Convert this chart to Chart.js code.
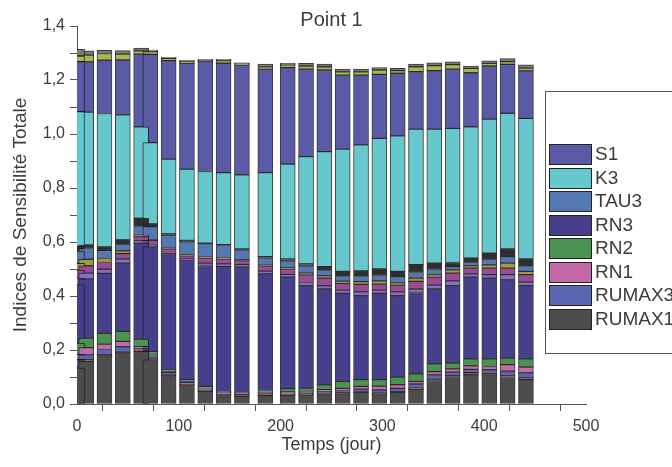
<!DOCTYPE html>
<html lang="fr">
<head>
<meta charset="utf-8">
<title>Point 1</title>
<script src="https://cdn.jsdelivr.net/npm/chart.js@4.4.1/dist/chart.umd.min.js"></script>
<style>
  html, body { margin: 0; padding: 0; background: #fff; }
</style>
</head>
<body>
<canvas id="chart" width="672" height="467"></canvas>
<script>
// Temps (jour) of each bar; the day 0 bar is last so it is drawn over the day 9 one
const days = [9, 27, 45, 63, 72, 90, 108, 126, 144, 162, 185, 207, 225, 243, 261, 279, 297, 315, 333, 351, 369, 387, 405, 423, 441, 0];

// total sensitivity indices, per parameter (bottom of the stack first)
const rumax1 = [.158, .179, .19, .195, .164, .105, .071, .047, .034, .028, .031, .032, .034, .038, .038, .043, .034, .043, .053, .087, .102, .108, .108, .098, .09, .133];
const otherRed = [.006, .003, .002, .003, .002, .002, .002, .002, .002, .008, .008, .004, .004, .003, .003, .002, .006, .003, .006, .004, .003, .008, .004, .006, .007, .006];
const rumax3 = [.018, .02, .02, .006, .01, .01, .007, .007, .005, .003, .004, .005, .006, .006, .009, .01, .012, .012, .015, .017, .013, .012, .015, .018, .018, .025];
const rn1 = [.027, .02, .02, .008, .004, .002, .002, .002, .002, .001, .001, .004, .003, .006, .008, .01, .014, .014, .01, .012, .012, .013, .012, .024, .022, .02];
const rn2 = [.035, .04, .037, .028, .015, .008, .008, .007, .004, .003, .006, .012, .012, .018, .026, .025, .024, .028, .028, .029, .022, .026, .028, .024, .03, .042];
const rn3 = [.219, .222, .253, .356, .388, .426, .444, .448, .462, .464, .432, .413, .379, .355, .326, .311, .32, .301, .301, .277, .286, .303, .299, .29, .271, .215];
const otherLavender = [.022, .015, .015, .008, .005, .004, .003, .009, .01, .009, .01, .01, .012, .012, .012, .014, .012, .014, .013, .014, .018, .012, .013, .019, .014, .025];
const otherMagenta = [.027, .025, .02, .016, .018, .018, .012, .018, .018, .015, .02, .02, .028, .028, .025, .028, .022, .025, .028, .03, .029, .021, .024, .024, .027, .03];
const otherOchre = [.024, .015, .01, .005, .002, .002, .003, .004, .003, .003, .002, .004, .007, .009, .008, .01, .012, .008, .012, .008, .012, .009, .012, .019, .012, .025];
const tau3 = [.04, .03, .025, .035, .049, .049, .049, .05, .047, .037, .025, .026, .027, .022, .02, .022, .02, .024, .021, .02, .012, .014, .022, .024, .021, .045];
const otherDark = [.013, .013, .016, .028, .01, .004, .005, .002, .003, .003, .007, .007, .007, .012, .016, .018, .024, .019, .029, .024, .015, .014, .022, .028, .025, .017];
const k3 = [.492, .494, .463, .339, .301, .277, .264, .265, .267, .275, .311, .352, .397, .426, .453, .467, .484, .502, .502, .496, .497, .487, .496, .503, .521, .5];
const s1 = [.186, .197, .203, .269, .327, .365, .392, .407, .405, .406, .383, .357, .324, .302, .274, .258, .237, .232, .213, .217, .219, .2, .197, .181, .176, .185];
const otherOlive = [.025, .025, .022, .012, .01, .008, .008, .005, .01, .005, .008, .01, .012, .012, .012, .012, .016, .01, .018, .018, .017, .016, .01, .01, .01, .021];
const otherGrey = [.016, .012, .013, .01, .006, .004, .004, .004, .005, .004, .011, .006, .01, .01, .01, .01, .009, .008, .01, .011, .01, .009, .009, .011, .012, .025];

const yTicks = [0, 0.2, 0.4, 0.6, 0.8, 1.0, 1.2, 1.4];
const xTicks = [0, 100, 200, 300, 400, 500];
const chartTitle = 'Point 1';
const legendOrder = ['S1', 'K3', 'TAU3', 'RN3', 'RN2', 'RN1', 'RUMAX3', 'RUMAX1'];

const FONT = '"Liberation Sans", Arial, sans-serif';
const TEXT = '#3c3c3c';
const AXIS = '#555';

// stacking order, bottom to top (unnamed parameters stay out of the legend)
const series = [
    { label: 'RUMAX1', data: rumax1, color: '#4d4d4d' },
    { label: '', data: otherRed, color: '#a0302a' },
    { label: 'RUMAX3', data: rumax3, color: '#5a66b4' },
    { label: 'RN1', data: rn1, color: '#c46aa9' },
    { label: 'RN2', data: rn2, color: '#4b9350' },
    { label: 'RN3', data: rn3, color: '#463f8c' },
    { label: '', data: otherLavender, color: '#8570bf' },
    { label: '', data: otherMagenta, color: '#9a4a96' },
    { label: '', data: otherOchre, color: '#a29b3c' },
    { label: 'TAU3', data: tau3, color: '#5478b2' },
    { label: '', data: otherDark, color: '#2e2e2e' },
    { label: 'K3', data: k3, color: '#66c8cd' },
    { label: 'S1', data: s1, color: '#5b5aa6' },
    { label: '', data: otherOlive, color: '#a8b94c' },
    { label: '', data: otherGrey, color: '#7a7a7a' }
];

// title and boxed legend drawn by hand: the legend overlaps the plot area
const overlay = {
    id: 'overlay',
    afterDraw(chart) {
        const ctx = chart.ctx;
        const area = chart.chartArea;
        ctx.save();
        ctx.fillStyle = TEXT;
        ctx.font = '20px ' + FONT;
        ctx.textAlign = 'center';
        ctx.textBaseline = 'alphabetic';
        ctx.fillText(chartTitle, (area.left + area.right) / 2, 26);

        ctx.fillStyle = '#fff';
        ctx.fillRect(545, 91, 140, 262);
        ctx.strokeStyle = AXIS;
        ctx.lineWidth = 1;
        ctx.strokeRect(545.5, 91.5, 140, 262);

        ctx.font = '19px ' + FONT;
        ctx.textAlign = 'left';
        ctx.textBaseline = 'middle';
        legendOrder.forEach((name, i) => {
            const ds = chart.data.datasets.find(d => d.label === name);
            const y = Math.round(144 + i * 23.5);
            ctx.fillStyle = ds.backgroundColor;
            ctx.fillRect(549, y, 43, 21);
            ctx.strokeStyle = '#222';
            ctx.strokeRect(549.5, y + 0.5, 42, 20);
            ctx.fillStyle = TEXT;
            ctx.fillText(name, 595, y + 11);
        });
        ctx.restore();
    }
};

const axisGrid = { drawOnChartArea: false, drawTicks: true, tickLength: 7, color: AXIS };

new Chart(document.getElementById('chart'), {
    type: 'bar',
    data: {
        datasets: series.map(s => ({
            label: s.label,
            data: days.map((d, i) => ({ x: d, y: s.data[i] })),
            backgroundColor: s.color,
            borderColor: 'rgba(25,25,25,0.85)',
            borderWidth: 1,
            borderSkipped: false,
            barThickness: 15,
            clip: 0
        }))
    },
    options: {
        responsive: false,
        animation: false,
        layout: { padding: { top: 26, right: 86, bottom: 0, left: 0 } },
        plugins: { legend: { display: false }, title: { display: false }, tooltip: { enabled: false } },
        scales: {
            x: {
                type: 'linear', min: 0, max: 500, offset: false, stacked: true,
                grid: axisGrid,
                border: { color: AXIS },
                ticks: {
                    stepSize: 50, autoSkip: false, maxRotation: 0, padding: 6, color: TEXT,
                    font: { family: FONT, size: 16 },
                    callback: v => xTicks.includes(v) ? String(v) : ''
                },
                title: { display: true, text: 'Temps (jour)', color: TEXT, font: { family: FONT, size: 18 }, padding: { top: 0, bottom: 11 } },
                afterFit: s => { s.height = 63; }
            },
            y: {
                min: 0, max: 1.4, stacked: true,
                grid: axisGrid,
                border: { color: AXIS },
                ticks: {
                    stepSize: 0.1, autoSkip: false, padding: 5, color: TEXT,
                    font: { family: FONT, size: 16 },
                    callback: v => yTicks.some(t => Math.abs(t - v) < 1e-6) ? v.toFixed(1).replace('.', ',') : ''
                },
                title: { display: true, text: 'Indices de Sensibilité Totale', color: TEXT, font: { family: FONT, size: 19 }, padding: { top: 9, bottom: 0 } },
                afterFit: s => { s.width = 77; }
            }
        }
    },
    plugins: [overlay]
});
</script>
</body>
</html>
